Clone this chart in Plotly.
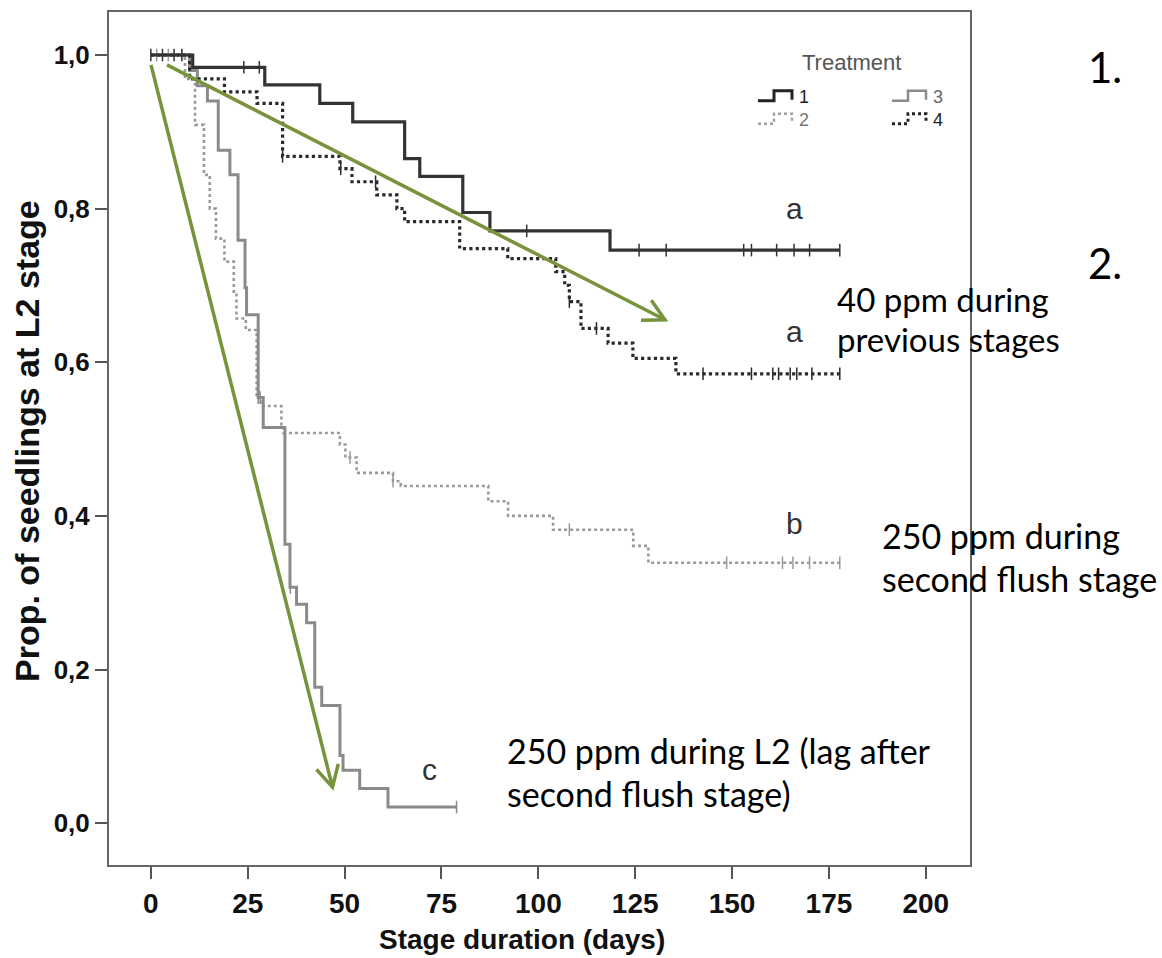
import math
import plotly.graph_objects as go

# ---- Kaplan-Meier curves: day of each drop and the proportion remaining after it ----
t1 = [0, 10.8, 29.4, 43.6, 52.1, 65.5, 69.4, 80.5, 87.5, 118.5, 177.8]
s1 = [1.0, 0.984, 0.961, 0.937, 0.913, 0.865, 0.842, 0.795, 0.771, 0.746, 0.746]
c1 = [0, 3, 6, 24, 28, 97, 126, 133, 153, 155, 161.5, 166, 170, 177.8]

t2 = [0, 8.8, 11.4, 13.7, 15.2, 16.8, 19.0, 21.4, 22.1, 24.5, 27.3, 28.5, 33.7, 34.2,
      48.8, 50.2, 53.1, 62.5, 64.5, 87.1, 92.2, 103.8, 124.5, 128.4, 177.8]
s2 = [1.0, 0.969, 0.909, 0.844, 0.800, 0.761, 0.731, 0.692, 0.657, 0.642, 0.554, 0.543,
      0.519, 0.508, 0.493, 0.476, 0.456, 0.445, 0.439, 0.419, 0.400, 0.382, 0.361, 0.339, 0.339]
c2 = [1.5, 4.5, 51.4, 62.5, 108, 148.6, 163, 165.7, 170, 177.8]

t3 = [0, 10, 12, 14.6, 17.4, 20.4, 22.5, 24.3, 24.7, 27.7, 29.0, 34.6, 35.9, 37.6, 40.2,
      42.3, 44.1, 48.8, 49.6, 53.9, 61.2, 78.9]
s3 = [1.0, 0.98, 0.96, 0.94, 0.876, 0.844, 0.759, 0.697, 0.662, 0.554, 0.515, 0.363, 0.307,
      0.285, 0.261, 0.177, 0.153, 0.088, 0.069, 0.045, 0.021, 0.021]
c3 = [27.7, 28.2, 36.0, 78.9]

t4 = [0, 10, 19, 27.4, 34, 48.8, 51.9, 58.3, 63.5, 65.5, 79.7, 92.1, 104.5, 106.8, 108,
      111, 118, 124.4, 135.5, 177.8]
s4 = [1.0, 0.969, 0.952, 0.937, 0.868, 0.852, 0.835, 0.818, 0.800, 0.783, 0.748, 0.735,
      0.718, 0.700, 0.679, 0.644, 0.625, 0.605, 0.585, 0.585]
c4 = [8, 34, 49, 58, 108, 115, 142.5, 155, 160.5, 162, 165, 166.7, 170.6, 177.8]

x_ticks = [0, 25, 50, 75, 100, 125, 150, 175, 200]
y_ticks = [0.0, 0.2, 0.4, 0.6, 0.8, 1.0]
y_ticktext = ["0,0", "0,2", "0,4", "0,6", "0,8", "1,0"]

groups = ["a", "a", "b", "c"]
group_pos = [(166, 0.80), (166, 0.64), (166, 0.39), (72, 0.07)]


def surv_at(times, vals, t):
    v = vals[0]
    for ti, vi in zip(times, vals):
        if ti <= t:
            v = vi
    return v


series = [
    (t2, s2, c2, "#9a9a9a", "dot", 2.6),
    (t3, s3, c3, "#8a8a8a", "solid", 3.0),
    (t4, s4, c4, "#2a2a2a", "dot", 3.2),
    (t1, s1, c1, "#333333", "solid", 3.2),
]

fig = go.Figure()
for times, vals, cens, col, dash, lw in series:
    fig.add_trace(go.Scatter(
        x=times, y=vals, mode="lines", line=dict(color=col, dash=dash, width=lw, shape="hv"),
        hoverinfo="skip"))
    fig.add_trace(go.Scatter(
        x=cens, y=[surv_at(times, vals, c) for c in cens], mode="markers",
        marker=dict(symbol="line-ns", size=9, line=dict(color=col, width=1.5)),
        hoverinfo="skip"))

# ---- plot area geometry in pixels (used for decorations in paper coordinates) ----
L, R, T, B = 109, 970, 10, 865


def px(x):
    return (x - L) / (R - L)


def py(y):
    return (B - y) / (B - T)


shapes = []


# legend glyphs: little step symbols
def step_glyph(x0, y_low, col, dash, width):
    pts = [(x0, y_low), (x0 + 16, y_low), (x0 + 16, y_low - 10), (x0 + 34, y_low - 10), (x0 + 34, y_low - 1)]
    path = "M " + " L ".join(f"{px(a):.5f} {py(b):.5f}" for a, b in pts)
    return dict(type="path", xref="paper", yref="paper", path=path,
                line=dict(color=col, width=width, dash=dash))


shapes.append(step_glyph(758, 99, "#222222", "solid", 3))
shapes.append(step_glyph(892, 99, "#8a8a8a", "solid", 2.5))
shapes.append(step_glyph(758, 122, "#a0a0a0", "dot", 2.5))
shapes.append(step_glyph(892, 122, "#222222", "dot", 3))

# green trend arrows with open heads
GREEN = "#77933C"


def arrow(x0, y0, x1, y1, head=24, ang=28):
    d = math.atan2(y1 - y0, x1 - x0)
    pts = []
    for s in (-1, 1):
        a = d + math.pi + s * math.radians(ang)
        pts.append((x1 + head * math.cos(a), y1 + head * math.sin(a)))
    path = (f"M {px(x0):.5f} {py(y0):.5f} L {px(x1):.5f} {py(y1):.5f} "
            f"M {px(pts[0][0]):.5f} {py(pts[0][1]):.5f} L {px(x1):.5f} {py(y1):.5f} "
            f"L {px(pts[1][0]):.5f} {py(pts[1][1]):.5f}")
    return dict(type="path", xref="paper", yref="paper", path=path,
                line=dict(color=GREEN, width=3.5))


shapes.append(arrow(151, 63, 332.5, 787))
shapes.append(arrow(167, 63, 665, 318.5))

ann = []
for g, (gx, gy) in zip(groups, group_pos):
    ann.append(dict(x=gx, y=gy, xref="x", yref="y", text=g, showarrow=False,
                    xanchor="center", yanchor="middle",
                    font=dict(family="Liberation Sans", size=30, color="#333333")))


def paper_text(txt, x, y, font, xanchor="center", **kw):
    return dict(x=px(x), y=py(y), xref="paper", yref="paper", text=txt, showarrow=False,
                xanchor=xanchor, yanchor="middle", font=font, **kw)


ann.append(paper_text("Treatment", 851, 61,
                      dict(family="Liberation Sans", size=22, color="#555555")))
for lbl, lx, ly, col in [("1", 797, 95, "#222222"), ("3", 931, 95, "#666666"),
                         ("2", 797, 118, "#777777"), ("4", 931, 118, "#222222")]:
    ann.append(paper_text(lbl, lx, ly, dict(family="Liberation Sans", size=18, color=col),
                          xanchor="left"))

# axis titles
ann.append(paper_text("Prop. of seedlings at L2 stage", 27, 440,
                      dict(family="Liberation Sans", size=34, color="#111111", weight="bold"),
                      textangle=-90))
ann.append(paper_text("Stage duration (days)", 522, 940,
                      dict(family="Liberation Sans", size=28, color="#111111", weight="bold")))

# side notes
for txt, lx, ly, size in [
    ("1.", 1086, 65, 42), ("2.", 1086, 262, 42),
    ("40 ppm during", 835, 298, 33), ("previous stages", 835, 338, 33),
    ("250 ppm during", 880, 535, 34), ("second flush stage", 880, 578, 34),
    ("250 ppm during L2 (lag after", 505, 750, 34), ("second flush stage)", 505, 793, 34),
]:
    ann.append(paper_text(txt, lx, ly, dict(family="Lato", size=size, color="#000000"),
                          xanchor="left"))

axis_common = dict(showline=True, linecolor="#666666", linewidth=2, mirror=True,
                   ticks="outside", ticklen=12, tickwidth=2, tickcolor="#555555",
                   showgrid=False, zeroline=False)

fig.update_layout(
    width=1162, height=958,
    margin=dict(l=L, r=1162 - R, t=T, b=958 - B),
    paper_bgcolor="white", plot_bgcolor="white",
    showlegend=False,
    xaxis=dict(axis_common, range=[-10.8, 211.4], tickvals=x_ticks,
               ticktext=[str(v) for v in x_ticks],
               tickfont=dict(family="Liberation Sans", size=28, color="#111111", weight="bold")),
    yaxis=dict(axis_common, range=[-0.0545, 1.056], tickvals=y_ticks, ticktext=y_ticktext,
               tickfont=dict(family="Liberation Sans", size=26, color="#111111", weight="bold")),
    shapes=shapes,
    annotations=ann,
)

fig.write_html("out.html")
